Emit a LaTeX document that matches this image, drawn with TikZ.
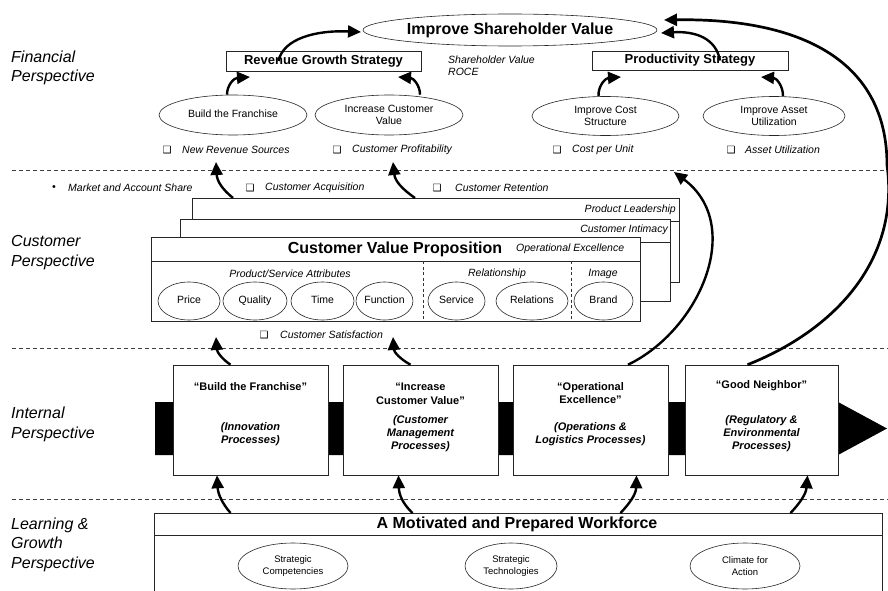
\documentclass[tikz,border=0pt]{standalone}
\usepackage{fontspec}
\setmainfont{Liberation Sans}
\newfontfamily\djv{DejaVu Sans}
\usetikzlibrary{arrows.meta,shapes.geometric}
\begin{document}
\begin{tikzpicture}[x=1pt,y=-1pt,
  persp/.style={anchor=west,align=left,inner sep=0,font=\fontsize{16}{19.5}\selectfont\itshape},
  ell/.style={draw=black!85,ellipse,inner sep=0,line width=0.6pt,fill=white,align=center},
  one/.style={text height=7.6pt,text depth=2.2pt},
  bx/.style={draw=black!85,line width=0.6pt,fill=white,inner sep=0},
  flow/.style={line width=2.4pt,-{Triangle[length=13pt,width=12pt]}},
  sepline/.style={draw=black!75,dash pattern=on 4pt off 3pt,line width=0.7pt},
  itl/.style={font=\fontsize{10.5}{12}\selectfont\itshape,inner sep=0},
  rg/.style={font=\fontsize{10.5}{12.5}\selectfont},
  sm/.style={font=\fontsize{9.5}{12}\selectfont},
  chk/.style={font=\djv\fontsize{10}{10}\selectfont,inner sep=0},
  ttl/.style={font=\bfseries\fontsize{11}{13.5}\selectfont,align=center,inner sep=0},
  sub/.style={font=\bfseries\itshape\fontsize{11}{13}\selectfont,align=center,inner sep=0}
]
\useasboundingbox (0,0) rectangle (888,591);

% separators
\draw[sepline] (12,170) -- (888,170);
\draw[sepline] (12,348) -- (888,348);
\draw[sepline] (12,499) -- (888,499);

% perspective labels
\node[persp] (lf) at (11,68) {Financial\\Perspective};
\node[persp] (lc) at (11,252.5) {Customer\\Perspective};
\node[persp] (li) at (11,424.5) {Internal\\Perspective};
\node[persp] (ll) at (11,544.5) {Learning \&\\Growth\\Perspective};

% ---------- Financial ----------
\node[ell,minimum width=294pt,minimum height=32pt,font=\bfseries\fontsize{16}{18}\selectfont] (isv) at (510,30) {Improve Shareholder Value};
\node[bx,minimum width=195pt,minimum height=20pt,font=\bfseries\fontsize{13}{15}\selectfont] (rgs) at (323.5,61) {Revenue Growth Strategy};
\node[bx,minimum width=196pt,minimum height=19pt,font=\bfseries\fontsize{13}{15}\selectfont] (ps) at (690,60.5) {Productivity Strategy};
\node[itl,anchor=west,align=left] (shv) at (448,66) {Shareholder Value\\ROCE};

\node[ell,rg,one,minimum width=148pt,minimum height=40pt] (bf) at (233,115) {Build the Franchise};
\node[ell,rg,minimum width=148pt,minimum height=40pt] (ice) at (389,115) {Increase Customer\\Value};
\node[ell,rg,minimum width=147pt,minimum height=39pt] (ics) at (605.5,116) {Improve Cost\\Structure};
\node[ell,rg,minimum width=142pt,minimum height=39pt] (iau) at (774,116) {Improve Asset\\Utilization};

\node[chk] (k1) at (167,150) {❑};
\node[itl,anchor=west] (t1) at (182,150) {New Revenue Sources};
\node[chk] (k2) at (337,150) {❑};
\node[itl,anchor=west] (t2) at (352,150) {Customer Profitability};
\node[chk] (k3) at (557,150) {❑};
\node[itl,anchor=west] (t3) at (572,150) {Cost per Unit};
\node[chk] (k4) at (731,150) {❑};
\node[itl,anchor=west] (t4) at (745,150) {Asset Utilization};

% ---------- Customer ----------
\node[itl] (bul) at (54,188) {•};
\node[itl,anchor=west] (mas) at (68,188) {Market and Account Share};
\node[chk] (k5) at (250,188) {❑};
\node[itl,anchor=west] (t5) at (265,188) {Customer Acquisition};
\node[chk] (k6) at (437,188) {❑};
\node[itl,anchor=west] (t6) at (455,188) {Customer Retention};

\node[bx,anchor=north west,minimum width=487pt,minimum height=84pt] (pl) at (192,198) {};
\draw[draw=black!85,line width=0.6pt] (192,221) -- (679,221);
\node[itl,anchor=east] (plt) at (676,209.5) {Product Leadership};

\node[bx,anchor=north west,minimum width=490pt,minimum height=82pt] (ci) at (180,219) {};
\draw[draw=black!85,line width=0.6pt] (180,242) -- (670,242);
\node[itl,anchor=east] (cit) at (668,230) {Customer Intimacy};

\node[bx,anchor=north west,minimum width=489pt,minimum height=84pt] (cvp) at (151,237) {};
\draw[draw=black!85,line width=0.6pt] (151,261) -- (640,261);
\node[inner sep=0,font=\bfseries\fontsize{16}{18}\selectfont] (cvpt) at (395,249) {Customer Value Proposition};
\node[itl,anchor=west] (oet) at (516,249) {Operational Excellence};
\draw[draw=black!80,line width=0.6pt,dash pattern=on 3pt off 2.5pt] (423,261) -- (423,321);
\draw[draw=black!80,line width=0.6pt,dash pattern=on 3pt off 2.5pt] (571,261) -- (571,321);
\node[itl] (psa) at (290,274) {Product/Service Attributes};
\node[itl] (rel) at (497,274) {Relationship};
\node[itl] (img) at (603,274) {Image};

\node[ell,rg,one,minimum width=62pt,minimum height=38pt] (e1) at (189,301) {Price};
\node[ell,rg,one,minimum width=64pt,minimum height=38pt] (e2) at (255,301) {Quality};
\node[ell,rg,one,minimum width=63pt,minimum height=38pt] (e3) at (322.5,301) {Time};
\node[ell,rg,one,minimum width=53pt,minimum height=38pt] (e4) at (384.5,301) {Function};
\node[ell,rg,one,minimum width=57pt,minimum height=38pt] (e5) at (456.5,301) {Service};
\node[ell,rg,one,minimum width=72pt,minimum height=38pt] (e6) at (532,301) {Relations};
\node[ell,rg,one,minimum width=59pt,minimum height=38pt] (e7) at (603.5,301) {Brand};

\node[chk] (k7) at (264,335) {❑};
\node[itl,anchor=west] (t7) at (280,335) {Customer Satisfaction};

% ---------- Internal ----------
\fill[black] (155,402) -- (838,402) -- (887,428.5) -- (838,455) -- (155,455) -- cycle;
\node[bx,minimum width=155pt,minimum height=110pt] (b1) at (250.5,420) {};
\node[bx,minimum width=155pt,minimum height=110pt] (b2) at (420.5,420) {};
\node[bx,minimum width=155pt,minimum height=110pt] (oe) at (590.5,420) {};
\node[bx,minimum width=153pt,minimum height=110pt] (gn) at (761.5,420) {};

\node[ttl] (b1t) at (250.5,387) {“Build the Franchise”};
\node[sub] (b1s) at (250.5,434.5) {(Innovation\\Processes)};
\node[ttl] (b2t) at (420.5,394) {“Increase\\Customer Value”};
\node[sub] (b2s) at (420.5,434) {(Customer\\Management\\Processes)};
\node[ttl] (oet2) at (590.5,393) {“Operational\\Excellence”};
\node[sub] (oes) at (590.5,434.5) {(Operations \&\\Logistics Processes)};
\node[ttl] (gnt) at (761.5,386) {“Good Neighbor”};
\node[sub] (gns) at (761.5,434) {(Regulatory \&\\Environmental\\Processes)};

% ---------- Learning ----------
\draw[draw=black!85,line width=0.6pt] (154,592) -- (154,513) -- (882,513) -- (882,592);
\node[inner sep=0,minimum width=728pt,minimum height=22pt,anchor=north west] (wfh) at (154,513) {};
\draw[draw=black!85,line width=0.6pt] (154,535) -- (882,535);
\node[inner sep=0,font=\bfseries\fontsize{16}{18}\selectfont] (wft) at (517,524) {A Motivated and Prepared Workforce};
\node[ell,sm,minimum width=110pt,minimum height=46pt] (sc) at (293,566) {Strategic\\Competencies};
\node[ell,sm,minimum width=92pt,minimum height=46pt] (st) at (511,566) {Strategic\\Technologies};
\node[ell,sm,minimum width=110pt,minimum height=46pt] (ca) at (745,566) {Climate for\\Action};

% ---------- arrow end coordinates ----------
\coordinate (a1e) at (250,77);
\coordinate (a2e) at (398,77);
\coordinate (a3e) at (361,32);
\coordinate (a4e) at (621,77);
\coordinate (a5e) at (761,77);
\coordinate (a6e) at (661,33);
\coordinate (a7e) at (664,20);
\coordinate (a8e) at (674,172);
\coordinate (c1e) at (216,162);
\coordinate (c2e) at (393,162);
\coordinate (i1e) at (216,337);
\coordinate (i2e) at (393,337);

% ---------- arrows ----------
\draw[flow] ([xshift=-6pt]bf.north) .. controls (227,85) and (234,78) .. (a1e);
\draw[flow] ([xshift=31pt]ice.north) .. controls (420,85) and (413,78) .. (a2e);
\draw[flow] ([xshift=-45pt]rgs.center) .. controls (283,39) and (315,30) .. (a3e);
\draw[flow] ([xshift=-7pt]ics.north) .. controls (598,85) and (606,78) .. (a4e);
\draw[flow] ([xshift=9pt]iau.north) .. controls (783,85) and (776,78) .. (a5e);
\draw[flow] ([xshift=30pt]ps.center) .. controls (716,38) and (695,31) .. (a6e);
\draw[flow,line width=2.7pt] ([xshift=-14pt]gn.north) .. controls (835,330) and (900,260) .. (887,165) .. controls (887,60) and (800,18) .. (a7e);
\draw[flow] ([xshift=37.5pt]oe.north) .. controls (700,330) and (745,225) .. (a8e);

\draw[flow] ([xshift=41pt]pl.north west) .. controls (222,189) and (217,181) .. (c1e);
\draw[flow] ([xshift=223pt]pl.north west) .. controls (402,189) and (395,181) .. (c2e);

\draw[flow] ([xshift=-20pt]b1.north) .. controls (222,359) and (217,352) .. (i1e);
\draw[flow] ([xshift=-10pt]b2.north) .. controls (400,359) and (394,352) .. (i2e);

\draw[flow] ([xshift=-20pt]b1.south |- wfh.north) .. controls (222,503) and (218,494) .. (b1.south -| 217,0);
\draw[flow] ([xshift=-8pt]b2.south |- wfh.north) .. controls (402,503) and (399,494) .. ([xshift=-22pt]b2.south);
\draw[flow] ([xshift=30pt]oe.south |- wfh.north) .. controls (630,503) and (636,494) .. ([xshift=46pt]oe.south);
\draw[flow] ([xshift=29pt]gn.south |- wfh.north) .. controls (800,503) and (806,494) .. ([xshift=46pt]gn.south);
\end{tikzpicture}
\end{document}
